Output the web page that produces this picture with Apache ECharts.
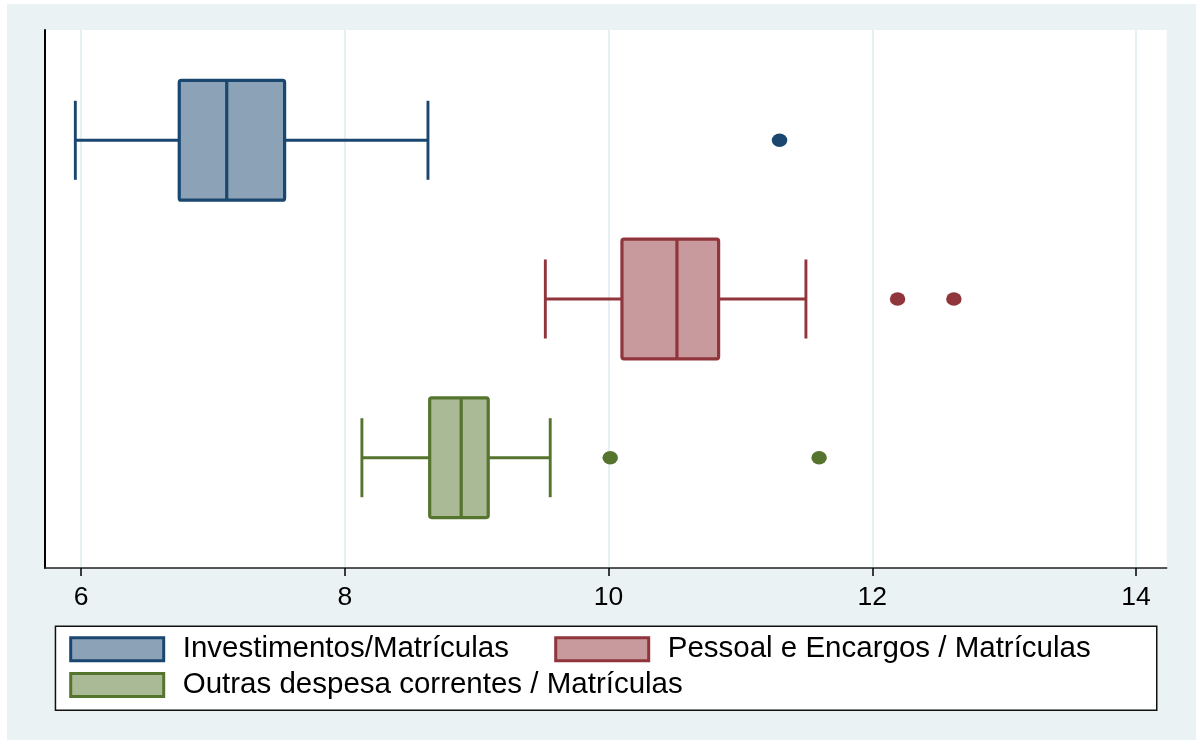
<!DOCTYPE html>
<html>
<head>
<meta charset="utf-8">
<script src="https://cdn.jsdelivr.net/npm/echarts@6/dist/echarts.min.js"></script>
<style>
html,body{margin:0;padding:0;background:#ffffff;}
#chart{position:absolute;left:7px;top:4px;width:1189px;height:736px;background:#eaf2f3;}
</style>
</head>
<body>
<div id="chart"></div>
<script>
const categories = ['Investimentos/Matrículas', 'Pessoal e Encargos / Matrículas', 'Outras despesa correntes / Matrículas'];
const boxMin    = [5.957, 9.521, 8.130];
const boxQ1     = [6.745, 10.102, 8.644];
const boxMedian = [7.105, 10.519, 8.883];
const boxQ3     = [7.544, 10.835, 9.088];
const boxMax    = [8.631, 11.497, 9.558];
const outliers  = [[11.297], [12.192, 12.619], [10.013, 11.597]];
const xTicks = [6, 8, 10, 12, 14];

const darkColors = ['#1a476f', '#90353b', '#55752f'];
const fillColors = ['#8ca3b7', '#c89a9d', '#aaba96'];
const FONT = "'Liberation Sans', Arial, sans-serif";

const chart = echarts.init(document.getElementById('chart'), null, {renderer: 'canvas'});

function makeRender(idx) {
  const dark = darkColors[idx], fill = fillColors[idx];
  return function (params, api) {
    const p = api.value(0);
    const c = d => api.coord([api.value(d), p]);
    const lo = c(1), q1 = c(2), md = c(3), q3 = c(4), hi = c(5);
    const unit = Math.abs(api.size([0, 1])[1]);
    const bh = unit * 0.377, ch = unit * 0.249;
    const y = lo[1];
    const ln = (x1, y1, x2, y2, w) => ({type: 'line', shape: {x1, y1, x2, y2}, style: {stroke: dark, lineWidth: w}});
    return {
      type: 'group',
      children: [
        ln(lo[0], y, q1[0], y, 2.9),
        ln(q3[0], y, hi[0], y, 2.9),
        ln(lo[0], y - ch, lo[0], y + ch, 2.9),
        ln(hi[0], y - ch, hi[0], y + ch, 2.9),
        {type: 'rect', shape: {x: q1[0], y: y - bh, width: q3[0] - q1[0], height: 2 * bh, r: 2},
         style: {fill: fill, stroke: dark, lineWidth: 3.2}},
        ln(md[0], y - bh, md[0], y + bh, 3.2)
      ]
    };
  };
}

const series = [];
categories.forEach((name, i) => {
  series.push({
    type: 'custom', name: name, xAxisIndex: 1, yAxisIndex: 1,
    renderItem: makeRender(i),
    encode: {x: [1, 2, 3, 4, 5], y: 0},
    data: [[i + 1, boxMin[i], boxQ1[i], boxMedian[i], boxQ3[i], boxMax[i]]],
    itemStyle: {color: fillColors[i], borderColor: darkColors[i]},
    silent: true, z: 3
  });
  series.push({
    type: 'scatter', name: name, xAxisIndex: 1, yAxisIndex: 1,
    symbol: 'circle', symbolSize: [15.5, 13.5],
    itemStyle: {color: darkColors[i], opacity: 1},
    data: outliers[i].map(v => [v, i + 1]),
    silent: true, z: 4
  });
});

function legendFor(i, left, top) {
  return {
    show: true, left: left, top: top, padding: 0, orient: 'horizontal',
    itemWidth: 93, itemHeight: 23, selectedMode: false,
    data: [{name: categories[i], icon: 'rect',
      itemStyle: {color: fillColors[i], borderColor: darkColors[i], borderWidth: 3}}],
    textStyle: {fontFamily: FONT, fontSize: 29.5, color: '#000', lineHeight: 30, padding: [6, 0, 0, 14]}
  };
}

const option = {
  animation: false,
  backgroundColor: '#eaf2f3',
  grid: [
    {left: 37.7, right: 29.3, top: 26, bottom: 172, show: true, backgroundColor: '#ffffff', borderWidth: 0},
    {left: 74, right: 60, top: 26, bottom: 172, show: false}
  ],
  xAxis: [
    {type: 'value', gridIndex: 0, min: 0, max: 1,
     axisLine: {show: true, onZero: false, lineStyle: {color: '#222', width: 1.5}},
     axisTick: {show: false}, axisLabel: {show: false}, splitLine: {show: false}},
    {type: 'value', gridIndex: 1, min: xTicks[0], max: xTicks[xTicks.length - 1], interval: 2,
     axisLine: {show: false},
     axisTick: {show: true, inside: false, length: 8, lineStyle: {color: '#000', width: 1.5}},
     axisLabel: {show: true, margin: 16, fontFamily: FONT, fontSize: 26.5, color: '#000'},
     splitLine: {show: true, lineStyle: {color: '#e6eff1', width: 2}}}
  ],
  yAxis: [
    {type: 'value', gridIndex: 0, min: 0, max: 1,
     axisLine: {show: true, onZero: false, lineStyle: {color: '#000', width: 2}},
     axisTick: {show: false}, axisLabel: {show: false}, splitLine: {show: false}},
    {type: 'value', gridIndex: 1, inverse: true, min: 0.305, max: 3.695, show: false,
     splitLine: {show: false}}
  ],
  legend: [
    legendFor(0, 62.2, 627.2),
    legendFor(1, 547.2, 627.2),
    legendFor(2, 62.2, 662.9)
  ],
  graphic: [
    {type: 'rect', left: 47.7, top: 621.4, z: -1,
     shape: {width: 1101.3, height: 84}, style: {fill: '#ffffff', stroke: '#111', lineWidth: 1.5}}
  ],
  series: series
};
chart.setOption(option);
</script>
</body>
</html>
